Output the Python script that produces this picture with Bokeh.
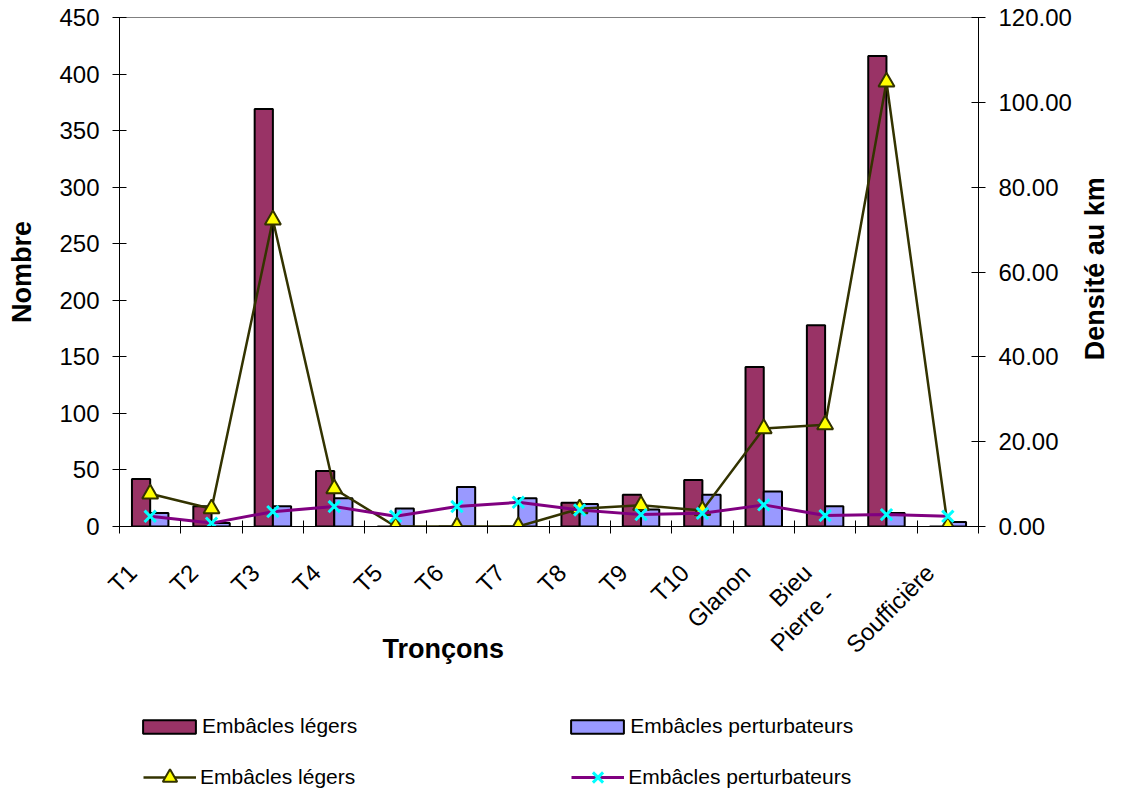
from math import pi
from bokeh.plotting import figure
from bokeh.layouts import column
from bokeh.models import (Range1d, LinearAxis, FixedTicker, ColumnDataSource, Title,
                          Legend, LegendItem, NumeralTickFormatter)
from bokeh.transform import dodge
from bokeh.embed import file_html
from bokeh.resources import INLINE

# ---------------- data ----------------
troncons = ["T1", "T2", "T3", "T4", "T5", "T6", "T7", "T8", "T9", "T10",
            "Glanon", "\nBieu\nPierre -", "", "Soufficière"]
legers_nombre = [42, 18, 369, 49, 0, 0, 0, 21, 28, 41, 141, 178, 416, 0]
perturbateurs_nombre = [12, 3, 18, 25, 16, 35, 25, 20, 15, 28, 31, 18, 12, 4]
legers_km = [7.7, 4.2, 72.3, 8.9, 0.0, 0.0, 0.0, 4.2, 5.0, 3.8, 23.1, 24.0, 104.8, 0.0]
perturbateurs_km = [2.4, 0.8, 3.5, 4.7, 2.4, 4.7, 5.7, 3.9, 2.8, 3.1, 5.1, 2.6, 2.8, 2.4]
left_ticks = [0, 50, 100, 150, 200, 250, 300, 350, 400, 450]
right_ticks = [0, 20, 40, 60, 80, 100, 120]
serie_legers = "Embâcles légers"
serie_perturb = "Embâcles perturbateurs"
titre_gauche, titre_droite, titre_bas = "Nombre", "Densité au km", "Tronçons"

FONT = "Liberation Sans"
C_LEG, C_PERT = "#993366", "#9999FF"
C_LLINE, C_PLINE = "#333300", "#800080"

idx = list(range(1, len(troncons) + 1))
src = ColumnDataSource(dict(x=idx, ln=legers_nombre, pn=perturbateurs_nombre,
                            lk=legers_km, pk=perturbateurs_km))

MAIN_H, LEG_H = 700, 91
x0, x1 = idx[0] - 0.5, idx[-1] + 0.5
p = figure(width=1128, height=MAIN_H, x_range=Range1d(x0, x1),
           y_range=Range1d(left_ticks[0], left_ticks[-1]),
           output_backend="svg", toolbar_location=None,
           min_border_left=119, min_border_right=145, min_border_top=17,
           min_border_bottom=MAIN_H - 526)
p.extra_y_ranges = {"right": Range1d(right_ticks[0], right_ticks[-1])}
p.xgrid.visible = False
p.ygrid.visible = False
p.outline_line_color = "#808080"

# y axes
raxis = LinearAxis(y_range_name="right", ticker=FixedTicker(ticks=right_ticks),
                   formatter=NumeralTickFormatter(format="0.00"))
p.add_layout(raxis, "right")
p.yaxis[0].ticker = FixedTicker(ticks=left_ticks)
for ax in [p.yaxis[0], raxis]:
    ax.major_tick_in = 7
    ax.major_tick_out = 7
    ax.minor_tick_line_color = None
    ax.axis_line_color = "black"
    ax.major_tick_line_color = "black"
    ax.major_label_text_font = FONT
    ax.major_label_text_font_size = "24px"
    ax.major_label_text_color = "black"
    ax.major_label_standoff = 13
ly = p.yaxis[0]
ly.axis_label = titre_gauche
ly.axis_label_standoff = 19
ly.axis_label_text_font = FONT
ly.axis_label_text_font_size = "27px"
ly.axis_label_text_font_style = "bold"
ly.axis_label_text_color = "black"
ly.axis_label_text_line_height = 1.0

# right title: a bare axis whose single label starts at the bottom of the title
title_start = 39.2   # right-axis value where the rotated title begins (layout position)
title_axis = LinearAxis(y_range_name="right", ticker=FixedTicker(ticks=[title_start]),
                        major_label_overrides={title_start: titre_droite},
                        major_label_orientation=pi / 2,
                        axis_line_color=None, major_tick_line_color=None,
                        minor_tick_line_color=None, major_tick_out=0, major_tick_in=0,
                        minor_tick_out=0, minor_tick_in=0, major_label_standoff=21,
                        major_label_text_font=FONT, major_label_text_font_size="27px",
                        major_label_text_font_style="bold", major_label_text_color="black")
p.add_layout(title_axis, "right")

# x axis: category labels under each group, ticks at group boundaries
xa = p.xaxis[0]
shift = 0.29
label_ticks = [round(i - shift, 2) for i in idx]
boundaries = [i - 0.5 for i in idx] + [idx[-1] + 0.5]
xa.ticker = FixedTicker(ticks=label_ticks, minor_ticks=boundaries)
xa.major_label_overrides = {t: c for t, c in zip(label_ticks, troncons)}
xa.major_tick_in = 0
xa.major_tick_out = 0
xa.minor_tick_in = 6
xa.minor_tick_out = 7
xa.minor_tick_line_color = "black"
xa.axis_line_color = "black"
xa.major_label_orientation = pi / 4
xa.major_label_standoff = 35
xa.major_label_text_font = FONT
xa.major_label_text_font_size = "24px"
xa.major_label_text_color = "black"

# bars
bw = 0.297
bar_l = dict(fill_color=C_LEG, line_color="black", line_width=2)
bar_p = dict(fill_color=C_PERT, line_color="black", line_width=2)
p.vbar(x=dodge("x", -bw / 2), top="ln", width=bw, source=src, **bar_l)
p.vbar(x=dodge("x", bw / 2), top="pn", width=bw, source=src, **bar_p)

# lines (right axis)
line_l = dict(line_color=C_LLINE, line_width=2.5)
mark_l = dict(marker="triangle", fill_color="#FFFF00", line_color=C_LLINE, line_width=2)
line_p = dict(line_color=C_PLINE, line_width=3)
mark_p = dict(marker="x", line_color="#00FFFF", line_width=3)
p.line("x", "lk", source=src, y_range_name="right", **line_l)
p.scatter("x", "lk", source=src, y_range_name="right", size=16, **mark_l)
p.line("x", "pk", source=src, y_range_name="right", **line_p)
p.scatter("x", "pk", source=src, y_range_name="right", size=16, **mark_p)

# x title
t_kwargs = dict(text=titre_bas, align="left", offset=263, text_font=FONT,
                text_font_size="27px", text_font_style="bold", text_color="black")
props = Title.properties()
if "vertical_align" in props:
    t_kwargs["vertical_align"] = "top"
if "standoff" in props:
    t_kwargs["standoff"] = -118
p.add_layout(Title(**t_kwargs), "below")

# ---------------- legend strip ----------------
leg = figure(width=1128, height=LEG_H, x_range=Range1d(x0, x1),
             y_range=Range1d(left_ticks[0], left_ticks[-1]),
             output_backend="svg", toolbar_location=None,
             x_axis_location=None, y_axis_location=None, min_border=0)
leg.xgrid.visible = False
leg.ygrid.visible = False
leg.outline_line_color = None
# the same series, hidden: they only provide the legend swatches
g_bl = leg.vbar(x="x", top="ln", width=bw, source=src, visible=False, **bar_l)
g_bp = leg.vbar(x="x", top="pn", width=bw, source=src, visible=False, **bar_p)
g_ll = leg.line("x", "lk", source=src, visible=False, **line_l)
g_lm = leg.scatter("x", "lk", source=src, size=16, visible=False, **mark_l)
g_pl = leg.line("x", "pk", source=src, visible=False, **line_p)
g_pm = leg.scatter("x", "pk", source=src, size=16, visible=False, **mark_p)

def add_legend(items, loc, gw, gh, standoff, spacing):
    lg = Legend(items=items, location=loc, orientation="horizontal",
                glyph_width=gw, glyph_height=gh, label_standoff=standoff, label_height=gh,
                padding=0, margin=0, spacing=spacing,
                border_line_alpha=0, background_fill_alpha=0,
                inactive_fill_alpha=0, click_policy="none",
                label_text_font=FONT, label_text_font_size="21px", label_text_color="black")
    leg.add_layout(lg, "center")

add_legend([LegendItem(label=serie_legers, renderers=[g_bl]),
            LegendItem(label=serie_perturb, renderers=[g_bp])], (17, 53), 66, 17, 0, 207)
add_legend([LegendItem(label=serie_legers, renderers=[g_ll, g_lm]),
            LegendItem(label=serie_perturb, renderers=[g_pl, g_pm])], (24, -4), 53, 36, 4, 216)

open("out.html", "w").write(file_html(column(p, leg, spacing=0), INLINE))
